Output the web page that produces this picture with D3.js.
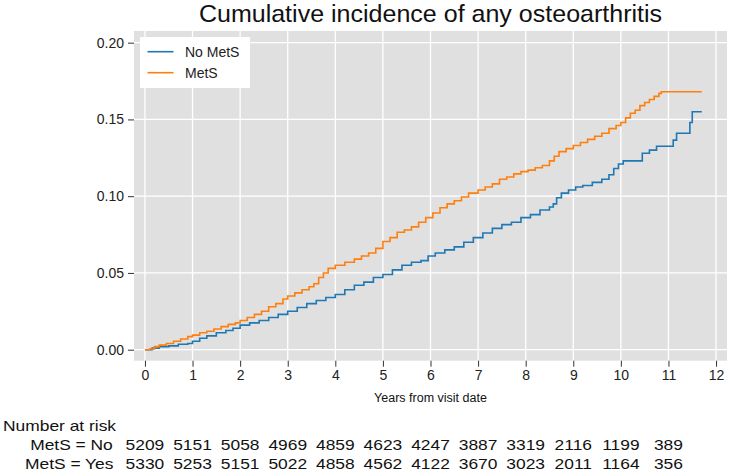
<!DOCTYPE html>
<html>
<head>
<meta charset="utf-8">
<script src="https://cdn.jsdelivr.net/npm/d3@7"></script>
<style>
  body { margin: 0; background: #fff; }
  text { font-family: "Liberation Sans", Arial, sans-serif; }
</style>
</head>
<body>
<div id="chart"></div>
<script>

// DATA

const titleTxt = "Cumulative incidence of any osteoarthritis";
const xLabel = "Years from visit date";

const xTicks = [0, 1, 2, 3, 4, 5, 6, 7, 8, 9, 10, 11, 12];
const yTicks = [0, 0.05, 0.10, 0.15, 0.20];

// No MetS (blue)
const noMetsTime = [0, 0.15, 0.3, 0.5, 0.7, 0.9, 1.0, 1.15, 1.3, 1.5, 1.7, 1.85, 2.0, 2.2, 2.4, 2.6, 2.8, 3.0,
  3.2, 3.4, 3.6, 3.8, 4.0, 4.2, 4.4, 4.6, 4.8, 5.0, 5.2, 5.4, 5.6, 5.8, 5.95, 6.1, 6.3, 6.5, 6.7, 6.9,
  7.1, 7.3, 7.5, 7.7, 7.9, 8.1, 8.3, 8.5, 8.58, 8.65, 8.75, 8.9, 9.05, 9.2, 9.4, 9.6, 9.75, 9.85, 9.95,
  10.05, 10.45, 10.6, 10.75, 11.1, 11.17, 11.45, 11.5, 11.7];
const noMetsCum = [0, 0.001, 0.002, 0.0025, 0.0035, 0.004, 0.0055, 0.0075, 0.009, 0.011, 0.0125, 0.014, 0.016, 0.0175, 0.019, 0.021, 0.023, 0.025,
  0.0275, 0.030, 0.032, 0.034, 0.036, 0.039, 0.042, 0.044, 0.047, 0.049, 0.052, 0.055, 0.057, 0.058, 0.061, 0.063, 0.065, 0.067, 0.070, 0.073,
  0.076, 0.079, 0.0815, 0.083, 0.086, 0.088, 0.091, 0.093, 0.095, 0.099, 0.102, 0.104, 0.106, 0.107, 0.109, 0.111, 0.114, 0.118, 0.121,
  0.123, 0.128, 0.130, 0.1325, 0.1365, 0.141, 0.148, 0.155, 0.155];

// MetS (orange)
const metsTime = [0, 0.1, 0.2, 0.3, 0.45, 0.6, 0.75, 0.9, 1.0, 1.15, 1.3, 1.45, 1.6, 1.75, 1.9, 2.0, 2.15, 2.3, 2.45,
  2.6, 2.75, 2.9, 3.0, 3.15, 3.3, 3.45, 3.55, 3.65, 3.75, 3.85, 4.0, 4.2, 4.4, 4.55, 4.7, 4.85, 5.0, 5.15, 5.3,
  5.45, 5.6, 5.75, 5.9, 6.05, 6.2, 6.35, 6.5, 6.65, 6.8, 7.0, 7.15, 7.3, 7.45, 7.6, 7.75, 7.9, 8.05, 8.2, 8.35,
  8.5, 8.6, 8.7, 8.85, 9.0, 9.15, 9.3, 9.45, 9.6, 9.75, 9.9, 10.0, 10.1, 10.2, 10.3, 10.4, 10.5, 10.6, 10.7,
  10.8, 10.85, 11.7];
const metsCum = [0, 0.0005, 0.002, 0.003, 0.004, 0.0055, 0.007, 0.0085, 0.0095, 0.011, 0.012, 0.0135, 0.015, 0.0165, 0.0175, 0.019, 0.021, 0.023, 0.025,
  0.028, 0.030, 0.033, 0.035, 0.037, 0.039, 0.041, 0.043, 0.047, 0.050, 0.053, 0.055, 0.057, 0.059, 0.061, 0.063, 0.066, 0.0705, 0.073, 0.0765,
  0.078, 0.080, 0.083, 0.086, 0.089, 0.0925, 0.095, 0.097, 0.0995, 0.102, 0.104, 0.106, 0.108, 0.111, 0.1125, 0.1145, 0.116, 0.117, 0.1185, 0.120,
  0.123, 0.126, 0.129, 0.131, 0.133, 0.135, 0.137, 0.139, 0.141, 0.144, 0.146, 0.148, 0.151, 0.154, 0.156, 0.159, 0.161, 0.163, 0.165,
  0.167, 0.168, 0.168];

// number at risk
const riskYears = [0, 1, 2, 3, 4, 5, 6, 7, 8, 9, 10, 11];
const riskNo = [5209, 5151, 5058, 4969, 4859, 4623, 4247, 3887, 3319, 2116, 1199, 389];
const riskYes = [5330, 5253, 5151, 5022, 4858, 4562, 4122, 3670, 3023, 2011, 1164, 356];

const seriesNames = ["No MetS", "MetS"];
const seriesColors = ["#1f77b4", "#ff7f0e"];


// SVG

const width = 729, height = 473;

let svg = d3.select("#chart")
  .append("svg")
  .attr("width", width)
  .attr("height", height);

const plot = { left: 134, right: 727, top: 31, bottom: 360.7 };

const x = d3.scaleLinear().domain([-0.23, 12.23]).range([plot.left, plot.right]);
const y = d3.scaleLinear().domain([-0.00717, 0.2076]).range([plot.bottom, plot.top]);

// fond gris
svg.append("rect")
  .attr("x", plot.left)
  .attr("y", plot.top)
  .attr("width", plot.right - plot.left)
  .attr("height", plot.bottom - plot.top)
  .style("fill", "#e0e0e0");

// grille
let grid = svg.append("g");
grid.selectAll(".vx")
  .data(xTicks)
  .enter()
  .append("line")
  .attr("x1", d => x(d)).attr("x2", d => x(d))
  .attr("y1", plot.top).attr("y2", plot.bottom)
  .style("stroke", "#fff")
  .style("stroke-width", 1.3);
grid.selectAll(".hy")
  .data(yTicks)
  .enter()
  .append("line")
  .attr("x1", plot.left).attr("x2", plot.right)
  .attr("y1", d => y(d)).attr("y2", d => y(d))
  .style("stroke", "#fff")
  .style("stroke-width", 1.3);

// axes
let xAxis = svg.append("g")
  .attr("transform", `translate(0,${plot.bottom})`)
  .call(d3.axisBottom(x).tickValues(xTicks).tickSize(6).tickPadding(3).tickFormat(d3.format("d")));
let yAxis = svg.append("g")
  .attr("transform", `translate(${plot.left},0)`)
  .call(d3.axisLeft(y).tickValues(yTicks).tickSize(6).tickPadding(4).tickFormat(d3.format(".2f")));

[xAxis, yAxis].forEach(a => {
  a.select(".domain").remove();
  a.selectAll(".tick line").style("stroke", "#333").style("stroke-width", 1);
  a.selectAll(".tick text")
    .style("font-family", "'Liberation Sans', Arial, sans-serif")
    .style("font-size", "14px")
    .style("fill", "#222");
});

// courbes
const lineGen = d3.line()
  .x(d => x(d[0]))
  .y(d => y(d[1]))
  .curve(d3.curveStepAfter);

const curves = [
  d3.zip(noMetsTime, noMetsCum),
  d3.zip(metsTime, metsCum)
];

let courbes = svg.append("g");
curves.forEach((pts, i) => {
  courbes.append("path")
    .datum(pts)
    .attr("d", lineGen)
    .style("fill", "none")
    .style("stroke", seriesColors[i])
    .style("stroke-width", 1.6);
});

// legende
let legend = svg.append("g");
legend.append("rect")
  .attr("x", 140).attr("y", 37)
  .attr("width", 110).attr("height", 51)
  .style("fill", "#fff");
seriesNames.forEach((name, i) => {
  legend.append("line")
    .attr("x1", 147.5).attr("x2", 173.5)
    .attr("y1", 51.7 + i * 21).attr("y2", 51.7 + i * 21)
    .style("stroke", seriesColors[i])
    .style("stroke-width", 1.6);
  legend.append("text")
    .attr("x", 185).attr("y", 57 + i * 21)
    .style("font-size", "14px")
    .style("fill", "#222")
    .text(name);
});

// titre (un peu elargi pour tenir dans la hauteur)
svg.append("text")
  .attr("transform", `translate(${(plot.left + plot.right) / 2},21.8) scale(1.043,1)`)
  .attr("text-anchor", "middle")
  .style("font-size", "24px")
  .style("fill", "#111")
  .text(titleTxt);

svg.append("text")
  .attr("x", (plot.left + plot.right) / 2)
  .attr("y", 402)
  .attr("text-anchor", "middle")
  .style("font-size", "12.5px")
  .style("fill", "#111")
  .text(xLabel);

// TABLEAU NOMBRE A RISQUE (texte un peu etire en largeur)
const sx = 1.16;
function stretched(g, tx, ty, txt, anchor) {
  g.append("text")
    .attr("transform", `translate(${tx},${ty}) scale(${sx},1)`)
    .attr("text-anchor", anchor)
    .style("font-size", "15px")
    .style("fill", "#111")
    .text(txt);
}

let table = svg.append("g");
stretched(table, 3, 430.7, "Number at risk", "start");
stretched(table, 112.8, 450, "MetS = No", "end");
stretched(table, 113.5, 469, "MetS = Yes", "end");
riskYears.forEach((yr, i) => {
  stretched(table, x(yr), 450, riskNo[i], "middle");
  stretched(table, x(yr), 469, riskYes[i], "middle");
});

</script>
</body>
</html>
